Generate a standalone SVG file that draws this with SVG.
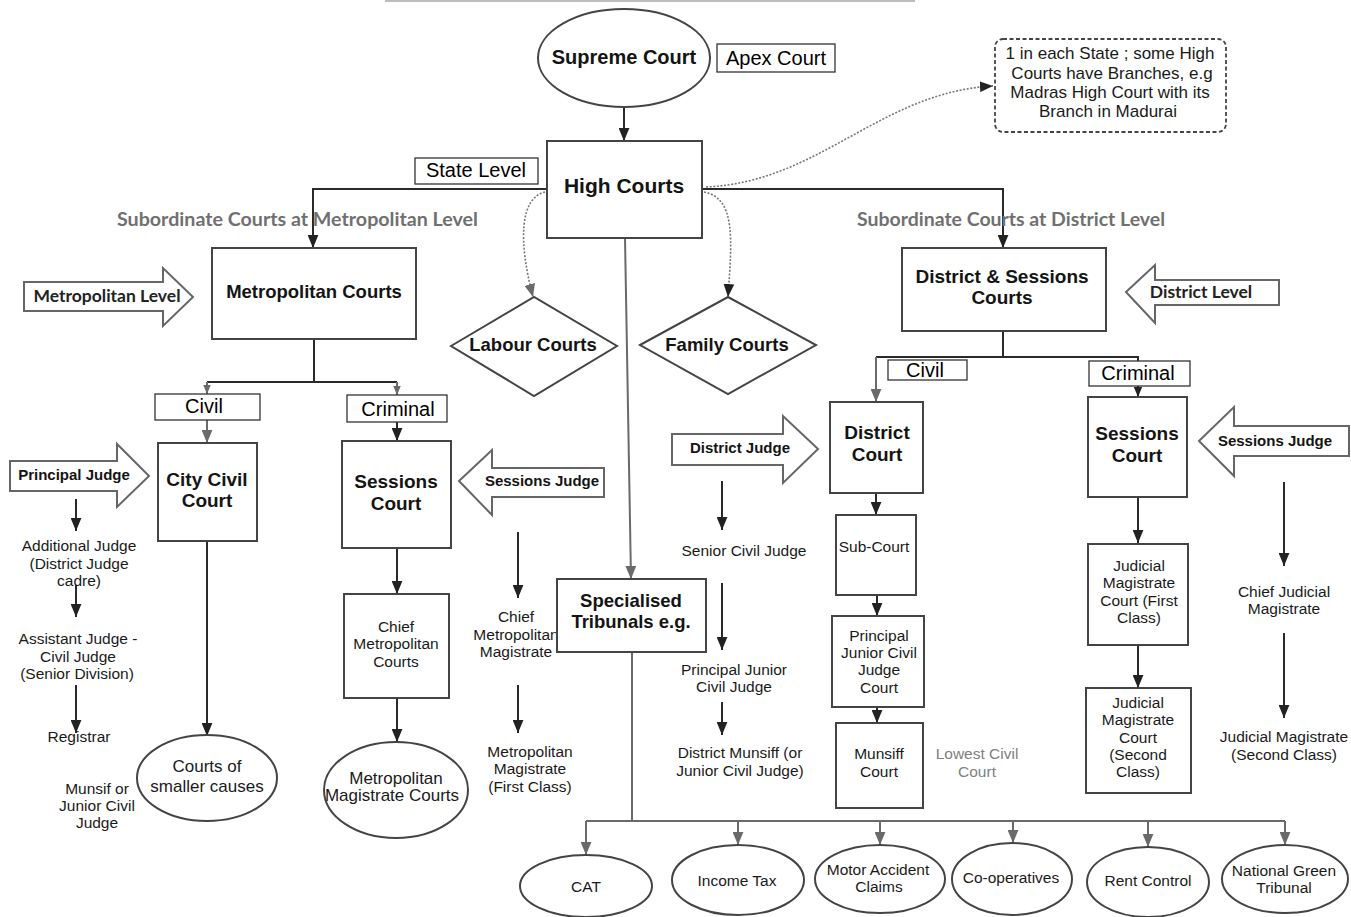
<svg xmlns="http://www.w3.org/2000/svg" width="1351" height="917" viewBox="0 0 1351 917">
<defs>
<style>
.box{fill:#fff;stroke:#444;stroke-width:2}
.blk{fill:#fff;stroke:#666;stroke-width:2}
.tag{fill:#fff;stroke:#333;stroke-width:1.3}
.note{fill:#fff;stroke:#444;stroke-width:1.8;stroke-dasharray:4 2.5}
.b{font-family:"Liberation Sans",Arial,sans-serif;font-weight:bold;fill:#141414;text-anchor:middle}
.r{font-family:"Liberation Sans",Arial,sans-serif;fill:#1a1a1a;text-anchor:middle;font-size:15.5px}
.re{font-family:"Liberation Sans",Arial,sans-serif;fill:#1a1a1a;text-anchor:middle;font-size:17px}
.nt{font-family:"Liberation Sans",Arial,sans-serif;fill:#1a1a1a;text-anchor:middle;font-size:17px}
.gr{font-family:"Liberation Sans",Arial,sans-serif;fill:#808080;text-anchor:middle;font-size:15.5px}
.t{font-family:"Liberation Sans",Arial,sans-serif;fill:#000;text-anchor:middle;font-size:20px}
.lv{font-family:Lato,"Liberation Sans",sans-serif;font-weight:bold;fill:#222;text-anchor:middle;font-size:17.5px}
.gt{font-family:Lato,"Liberation Sans",sans-serif;font-weight:bold;fill:#707070;font-size:19px}
.ln{stroke:#2a2a2a;stroke-width:2;fill:none}
.lg{stroke:#6a6a6a;stroke-width:2;fill:none}
.dot{stroke:#777;stroke-width:1.6;stroke-dasharray:2 1.6;fill:none}
</style>
<marker id="ah" viewBox="0 0 12 10" refX="12" refY="5" markerUnits="userSpaceOnUse" markerWidth="13" markerHeight="11" orient="auto"><path d="M0,0 L12,5 L0,10 z" fill="#222"/></marker>
<marker id="ahg" viewBox="0 0 12 10" refX="12" refY="5" markerUnits="userSpaceOnUse" markerWidth="13" markerHeight="11" orient="auto"><path d="M0,0 L12,5 L0,10 z" fill="#6a6a6a"/></marker>
<marker id="ahs" viewBox="0 0 12 10" refX="12" refY="5" markerUnits="userSpaceOnUse" markerWidth="9" markerHeight="8" orient="auto"><path d="M0,0 L12,5 L0,10 z" fill="#6a6a6a"/></marker>
<marker id="ahk" viewBox="0 0 12 10" refX="12" refY="5" markerUnits="userSpaceOnUse" markerWidth="10" markerHeight="9" orient="auto"><path d="M0,0 L12,5 L0,10 z" fill="#222"/></marker>
</defs>
<rect x="0" y="0" width="1351" height="917" fill="#fff"/>
<line x1="385" y1="1" x2="915" y2="1" stroke="#bdbdbd" stroke-width="2"/>

<g id="connectors">
<path class="ln" d="M624,107 V141" marker-end="url(#ah)"/>
<path class="ln" d="M547,189 H313 V248" marker-end="url(#ah)"/>
<path class="ln" d="M702,189 H1003 V248" marker-end="url(#ah)"/>
<path class="ln" d="M314,339 V382 M207,382 H397"/>
<path class="lg" d="M207,382 V394" marker-end="url(#ahs)"/>
<path class="lg" d="M397,382 V395" marker-end="url(#ahs)"/>
<path class="lg" d="M207,420 V443" marker-end="url(#ahg)"/>
<path class="ln" d="M397,422 V441" marker-end="url(#ah)"/>
<path class="ln" d="M397,548 V594" marker-end="url(#ah)"/>
<path class="ln" d="M397,698 V742" marker-end="url(#ah)"/>
<path class="ln" d="M207,541 V736" marker-end="url(#ah)"/>
<path class="ln" d="M76,499 V531" marker-end="url(#ah)"/>
<path class="ln" d="M76,585 V617" marker-end="url(#ah)"/>
<path class="ln" d="M76,685 V733" marker-end="url(#ah)"/>
<path class="ln" d="M518,532 V598" marker-end="url(#ah)"/>
<path class="ln" d="M518,685 V733" marker-end="url(#ah)"/>
<path class="lg" d="M625,238 L631,579" marker-end="url(#ahg)"/>
<path class="dot" d="M545,192 C520,198 518,240 533,297" marker-end="url(#ahg)"/>
<path class="dot" d="M704,192 C736,198 732,240 728,297" marker-end="url(#ah)"/>
<path class="dot" d="M706,187 C820,182 880,92 993,86" marker-end="url(#ah)"/>
<path class="ln" d="M722,481 V530" marker-end="url(#ah)"/>
<path class="ln" d="M722,583 V650" marker-end="url(#ah)"/>
<path class="ln" d="M722,702 V735" marker-end="url(#ah)"/>
<path class="ln" d="M1003,331 V357 M876,357 H1138 V361"/>
<path class="lg" d="M876,357 V402" marker-end="url(#ahg)"/>
<path class="ln" d="M1138,386 V397" marker-end="url(#ahk)"/>
<path class="ln" d="M876,493 V515" marker-end="url(#ah)"/>
<path class="ln" d="M877,595 V616" marker-end="url(#ah)"/>
<path class="ln" d="M877,707 V723" marker-end="url(#ah)"/>
<path class="ln" d="M1138,497 V543" marker-end="url(#ah)"/>
<path class="ln" d="M1138,645 V688" marker-end="url(#ah)"/>
<path class="ln" d="M1284,482 V566" marker-end="url(#ah)"/>
<path class="ln" d="M1284,633 V718" marker-end="url(#ah)"/>
<path class="lg" d="M632,652 V821 M586,821 H1285"/>
<path class="lg" d="M586,821 V855" marker-end="url(#ahg)"/>
<path class="lg" d="M738,821 V845" marker-end="url(#ahg)"/>
<path class="lg" d="M880,821 V845" marker-end="url(#ahg)"/>
<path class="lg" d="M1013,821 V843" marker-end="url(#ahg)"/>
<path class="lg" d="M1148,821 V847" marker-end="url(#ahg)"/>
<path class="lg" d="M1285,821 V845" marker-end="url(#ahg)"/>
</g>

<g id="supreme-court"><ellipse class="box" cx="624" cy="58" rx="86" ry="49"/><text class="b" x="624" y="64" font-size="20">Supreme Court</text></g>
<g id="apex-court"><rect class="tag" x="717" y="44" width="118" height="28"/><text class="t" x="776" y="65">Apex Court</text></g>
<g id="high-courts"><rect class="box" x="547" y="141" width="155" height="97"/><text class="b" x="624" y="193" font-size="21">High Courts</text></g>
<g id="state-level"><rect class="tag" x="415" y="158" width="123" height="26"/><text class="t" x="476" y="177">State Level</text></g>
<g id="note"><rect class="note" x="995" y="39" width="231" height="93" rx="8"/>
<text class="nt" x="1110" y="59">1 in each State ; some High</text>
<text class="nt" x="1112" y="79">Courts have Branches,  e.g</text>
<text class="nt" x="1110" y="98">Madras High Court with its</text>
<text class="nt" x="1108" y="117">Branch in Madurai</text></g>
<text class="gt" x="117" y="226" textLength="361" lengthAdjust="spacingAndGlyphs">Subordinate Courts at Metropolitan Level</text>
<text class="gt" x="857" y="226" textLength="308" lengthAdjust="spacingAndGlyphs">Subordinate Courts at District Level</text>

<g id="metropolitan-courts"><rect class="box" x="212" y="248" width="204" height="91"/><text class="b" x="314" y="298" font-size="18.5">Metropolitan Courts</text></g>
<g id="metropolitan-level"><polygon class="blk" points="24,282 163,282 163,268 193,297 163,326 163,311 24,311"/><text class="lv" x="107" y="302">Metropolitan Level</text></g>
<g id="labour-courts"><polygon class="box" points="451,346 534,297 617,346 534,396"/><text class="b" x="533" y="351" font-size="18.5">Labour Courts</text></g>
<g id="family-courts"><polygon class="box" points="640,345 728,297 816,345 728,394"/><text class="b" x="727" y="351" font-size="18.5">Family Courts</text></g>
<g id="district-sessions-courts"><rect class="box" x="902" y="248" width="204" height="83"/><text class="b" x="1002" y="283" font-size="19">District &amp; Sessions</text><text class="b" x="1002" y="304" font-size="19">Courts</text></g>
<g id="district-level"><polygon class="blk" points="1126,292 1155,265 1155,280 1279,280 1279,305 1155,305 1155,323"/><text class="lv" x="1201" y="298">District Level</text></g>

<g id="civil-metro"><rect class="tag" x="155" y="394" width="105" height="26"/><text class="t" x="204" y="413">Civil</text></g>
<g id="criminal-metro"><rect class="tag" x="347" y="395" width="100" height="27"/><text class="t" x="398" y="416">Criminal</text></g>
<g id="city-civil-court"><rect class="box" x="158" y="443" width="99" height="98"/><text class="b" x="207" y="486" font-size="19">City Civil</text><text class="b" x="207" y="507" font-size="19">Court</text></g>
<g id="principal-judge"><polygon class="blk" points="10,461 117,461 117,444 149,476 117,507 117,491 10,491"/><text class="b" x="74" y="480" font-size="15">Principal Judge</text></g>
<g id="additional-judge"><text class="r" x="79" y="551">Additional Judge</text><text class="r" x="79" y="569">(District Judge</text><text class="r" x="79" y="586">cadre)</text></g>
<g id="assistant-judge"><text class="r" x="78" y="644">Assistant Judge  -</text><text class="r" x="78" y="662">Civil Judge</text><text class="r" x="77" y="679">(Senior Division)</text></g>
<g id="registrar"><text class="r" x="79" y="742">Registrar</text></g>
<g id="munsif"><text class="r" x="97" y="794">Munsif or</text><text class="r" x="97" y="811">Junior Civil</text><text class="r" x="97" y="828">Judge</text></g>
<g id="courts-smaller-causes"><ellipse class="box" cx="207" cy="778" rx="70" ry="43"/><text class="re" x="207" y="772">Courts of</text><text class="re" x="207" y="792">smaller causes</text></g>

<g id="sessions-court-metro"><rect class="box" x="342" y="441" width="109" height="107"/><text class="b" x="396" y="488" font-size="19">Sessions</text><text class="b" x="396" y="510" font-size="19">Court</text></g>
<g id="sessions-judge-metro"><polygon class="blk" points="459,481 492,450 492,468 604,468 604,497 492,497 492,515"/><text class="b" x="542" y="486" font-size="15">Sessions Judge</text></g>
<g id="chief-metro-courts"><rect class="box" x="344" y="594" width="105" height="104"/><text class="r" x="396" y="632">Chief</text><text class="r" x="396" y="649">Metropolitan</text><text class="r" x="396" y="667">Courts</text></g>
<g id="metro-magistrate-courts"><ellipse class="box" cx="396" cy="790" rx="72" ry="48"/><text class="re" x="396" y="784">Metropolitan</text><text class="re" x="392" y="801">Magistrate Courts</text></g>
<g id="chief-metro-magistrate"><text class="r" x="516" y="622">Chief</text><text class="r" x="516" y="640">Metropolitan</text><text class="r" x="516" y="657">Magistrate</text></g>
<g id="metro-magistrate-first"><text class="r" x="530" y="757">Metropolitan</text><text class="r" x="530" y="774">Magistrate</text><text class="r" x="530" y="792">(First Class)</text></g>

<g id="specialised-tribunals"><rect class="box" x="557" y="579" width="149" height="73"/><text class="b" x="631" y="607" font-size="18.5">Specialised</text><text class="b" x="631" y="628" font-size="18.5">Tribunals e.g.</text></g>

<g id="district-judge"><polygon class="blk" points="672,434 783,434 783,416 818,449 783,483 783,465 672,465"/><text class="b" x="740" y="453" font-size="15">District Judge</text></g>
<g id="senior-civil-judge"><text class="r" x="744" y="556">Senior Civil Judge</text></g>
<g id="principal-junior-civil-judge"><text class="r" x="734" y="675">Principal Junior</text><text class="r" x="734" y="692">Civil Judge</text></g>
<g id="district-munsiff"><text class="r" x="740" y="758">District Munsiff (or</text><text class="r" x="740" y="776">Junior Civil Judge)</text></g>

<g id="civil-district"><rect class="tag" x="888" y="360" width="79" height="20"/><text class="t" x="925" y="377">Civil</text></g>
<g id="criminal-district"><rect class="tag" x="1089" y="361" width="101" height="25"/><text class="t" x="1138" y="380">Criminal</text></g>
<g id="district-court"><rect class="box" x="830" y="402" width="93" height="91"/><text class="b" x="877" y="439" font-size="19">District</text><text class="b" x="877" y="461" font-size="19">Court</text></g>
<g id="sub-court"><rect class="box" x="836" y="515" width="80" height="80"/><text class="r" x="874" y="552">Sub-Court</text></g>
<g id="principal-junior-civil-judge-court"><rect class="box" x="832" y="616" width="92" height="91"/><text class="r" x="879" y="641">Principal</text><text class="r" x="879" y="658">Junior Civil</text><text class="r" x="879" y="675">Judge</text><text class="r" x="879" y="693">Court</text></g>
<g id="munsiff-court"><rect class="box" x="836" y="723" width="87" height="85"/><text class="r" x="879" y="759">Munsiff</text><text class="r" x="879" y="777">Court</text></g>
<g id="lowest-civil-court"><text class="gr" x="977" y="759">Lowest Civil</text><text class="gr" x="977" y="777">Court</text></g>

<g id="sessions-court-district"><rect class="box" x="1088" y="397" width="99" height="100"/><text class="b" x="1137" y="440" font-size="19">Sessions</text><text class="b" x="1137" y="462" font-size="19">Court</text></g>
<g id="sessions-judge-district"><polygon class="blk" points="1199,441 1234,407 1234,426 1349,426 1349,456 1234,456 1234,476"/><text class="b" x="1275" y="446" font-size="15">Sessions Judge</text></g>
<g id="jm-first-class"><rect class="box" x="1088" y="544" width="100" height="101"/><text class="r" x="1139" y="571">Judicial</text><text class="r" x="1139" y="588">Magistrate</text><text class="r" x="1139" y="606">Court (First</text><text class="r" x="1139" y="623">Class)</text></g>
<g id="jm-second-class"><rect class="box" x="1086" y="688" width="105" height="105"/><text class="r" x="1138" y="708">Judicial</text><text class="r" x="1138" y="725">Magistrate</text><text class="r" x="1138" y="743">Court</text><text class="r" x="1138" y="760">(Second</text><text class="r" x="1138" y="777">Class)</text></g>
<g id="chief-judicial-magistrate"><text class="r" x="1284" y="597">Chief Judicial</text><text class="r" x="1284" y="614">Magistrate</text></g>
<g id="judicial-magistrate-second"><text class="r" x="1284" y="742">Judicial Magistrate</text><text class="r" x="1284" y="760">(Second Class)</text></g>

<g id="cat"><ellipse class="box" cx="586" cy="886" rx="66" ry="31"/><text class="r" x="586" y="892">CAT</text></g>
<g id="income-tax"><ellipse class="box" cx="738" cy="880" rx="66" ry="35"/><text class="r" x="737" y="886">Income Tax</text></g>
<g id="motor-accident-claims"><ellipse class="box" cx="880" cy="879" rx="65" ry="34"/><text class="r" x="878" y="875">Motor Accident</text><text class="r" x="879" y="892">Claims</text></g>
<g id="co-operatives"><ellipse class="box" cx="1012" cy="879" rx="60" ry="36"/><text class="r" x="1011" y="883">Co-operatives</text></g>
<g id="rent-control"><ellipse class="box" cx="1148" cy="882" rx="61" ry="35"/><text class="r" x="1148" y="886">Rent Control</text></g>
<g id="national-green-tribunal"><ellipse class="box" cx="1285" cy="879" rx="63" ry="34"/><text class="r" x="1284" y="876">National Green</text><text class="r" x="1284" y="893">Tribunal</text></g>
</svg>
